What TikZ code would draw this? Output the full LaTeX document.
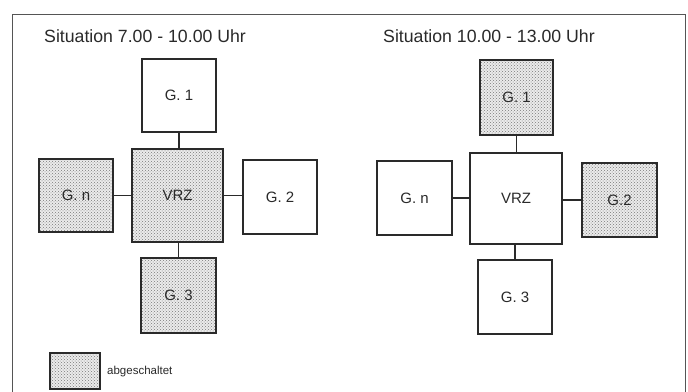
\documentclass[tikz,border=0pt]{standalone}
\usepackage{fontspec}
\setmainfont{Liberation Sans}
\usetikzlibrary{patterns}
\definecolor{ink}{HTML}{2A2A2A}
\begin{document}
\begin{tikzpicture}[x=1pt,y=-1pt,
  box/.style={draw=ink, line width=1.6pt, rectangle, inner sep=0pt, font=\fontsize{15}{17}\selectfont, text=ink},
  off/.style={preaction={fill=gray!16}, pattern=crosshatch dots, pattern color=gray!95!black},
  conn/.style={draw=ink, line width=1.7pt},
  title/.style={anchor=base west, inner sep=0pt, font=\fontsize{17.7}{20}\selectfont, text=ink}]
\useasboundingbox (0,0) rectangle (688,391);
\fill[white] (0,0) rectangle (688,391);
\draw[ink!80, line width=0.9pt] (12,14) rectangle (685,396);
% titles
\node[title] (t1) at (44,42) {Situation 7.00 - 10.00 Uhr};
\node[title] (t2) at (383,42) {Situation 10.00 - 13.00 Uhr};
% left diagram
\node[box, off, minimum width=91pt, minimum height=93pt] (LV) at (177.5,195.5) {VRZ};
\node[box, minimum width=74pt, minimum height=73pt] (L1) at (179,95.5) {G. 1};
\node[box, off, minimum width=74pt, minimum height=73pt] (Ln) at (76,195.5) {G. n};
\node[box, minimum width=74pt, minimum height=74pt] (L2) at (280,197) {G. 2};
\node[box, off, minimum width=75pt, minimum height=75pt] (L3) at (178.5,295.5) {G. 3};
\draw[conn] (L1.south) -- (L1.south |- LV.north);
\draw[conn] (L3.north) -- (L3.north |- LV.south);
\draw[conn] (Ln.east) -- (Ln.east -| LV.west);
\draw[conn] (LV.east) -- (LV.east -| L2.west);
% right diagram
\node[box, minimum width=92pt, minimum height=91pt] (RV) at (516,198.5) {VRZ};
\node[box, off, minimum width=73pt, minimum height=75pt] (R1) at (516.5,97.5) {G. 1};
\node[box, minimum width=75pt, minimum height=74pt] (Rn) at (414.5,198) {G. n};
\node[box, off, minimum width=75pt, minimum height=74pt] (R2) at (619.5,200) {G.2};
\node[box, minimum width=74pt, minimum height=74pt] (R3) at (515,297) {G. 3};
\draw[conn] (R1.south) -- (R1.south |- RV.north);
\draw[conn] (R3.north) -- (R3.north |- RV.south);
\draw[conn] (Rn.east) -- (Rn.east -| RV.west);
\draw[conn] (RV.east |- R2.west) -- (R2.west);
% legend
\node[box, off, minimum width=50pt, minimum height=36pt] (leg) at (75,371) {};
\node[anchor=west, inner sep=0pt, font=\fontsize{11.5}{13}\selectfont, text=ink] (legt) at (107,372) {abgeschaltet};
\end{tikzpicture}
\end{document}
